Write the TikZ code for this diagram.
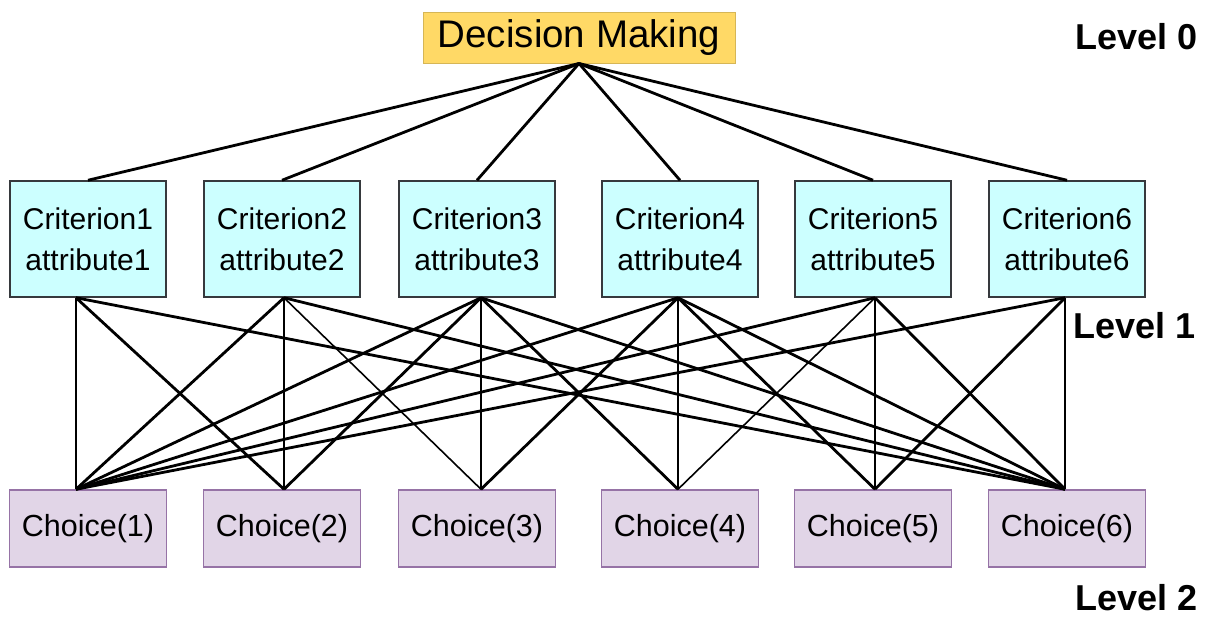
\documentclass[tikz,border=0pt]{standalone}
\usepackage{fontspec}
\setmainfont{Liberation Sans}
\usepackage{tikz}
\usetikzlibrary{positioning}
\definecolor{dmfill}{HTML}{FFD966}
\definecolor{dmline}{HTML}{D6B656}
\definecolor{critfill}{HTML}{CCFFFF}
\definecolor{critline}{HTML}{36393D}
\definecolor{chfill}{HTML}{E1D5E7}
\definecolor{chline}{HTML}{9673A6}
\newcommand{\crittext}[1]{Criterion#1\\attribute#1}
\tikzset{dm/.style={rectangle, draw=dmline, line width=1pt, fill=dmfill, inner sep=0pt,
            minimum width=312pt, minimum height=51pt, font=\fontsize{38.5}{40}\selectfont},
         crit/.style={rectangle, draw=critline, line width=1.5pt, fill=critfill, inner sep=0pt,
            align=center, minimum width=156pt, minimum height=116pt, font=\fontsize{30}{41}\selectfont},
         chc/.style={rectangle, draw=chline, line width=1.5pt, fill=chfill, inner sep=0pt,
            minimum width=157pt, minimum height=77pt, font=\fontsize{30.5}{34}\selectfont},
         lvl/.style={anchor=east, font=\bfseries\fontsize{36}{38}\selectfont},
         link/.style={draw=black, line width=2.8pt},
         thinlink/.style={draw=black, line width=1.6pt}}

\begin{document}
\begin{tikzpicture}[x=1pt, y=-1pt]
\useasboundingbox (0,0) rectangle (1212,616);
 \node[dm] (dec) at (579,37.5) {Decision Making};
 \foreach \i/\x in {1/88,2/282,3/477,4/680,5/873,6/1067} {
   \node[crit] (c\i) at (\x,239) {\crittext{\i}};
   \node[chc] (h\i) at (\x,528.5) {Choice(\i)};
 }
 % where the links meet the boxes
 \foreach \i/\dx in {1/-12,2/2,3/4,4/-2,5/2,6/-2} {
   \coordinate (cb\i) at ([xshift=\dx pt]c\i.south);
   \coordinate (ht\i) at ([xshift=\dx pt]h\i.north);
 }
 \foreach \i in {1,...,6}
   \draw[link] (dec.south) -- (c\i.north);
 % every criterion to the first and the last choice
 \foreach \i in {1,...,6} {
   \draw[link] (cb\i) -- (ht1);
   \draw[link] (cb\i) -- (ht6);
 }
 % middle choices from their neighbours
 \foreach \a/\b in {1/2,3/2,3/3,4/3,3/4,4/5,5/5,6/5}
   \draw[link] (cb\a) -- (ht\b);
 \foreach \a/\b in {2/2,2/3,4/4,5/4}
   \draw[thinlink] (cb\a) -- (ht\b);
 \node[lvl] (l0) at (1201,37) {Level 0};
 \node[lvl] (l1) at (1199,326) {Level 1};
 \node[lvl] (l2) at (1201,598) {Level 2};
\end{tikzpicture}
\end{document}
